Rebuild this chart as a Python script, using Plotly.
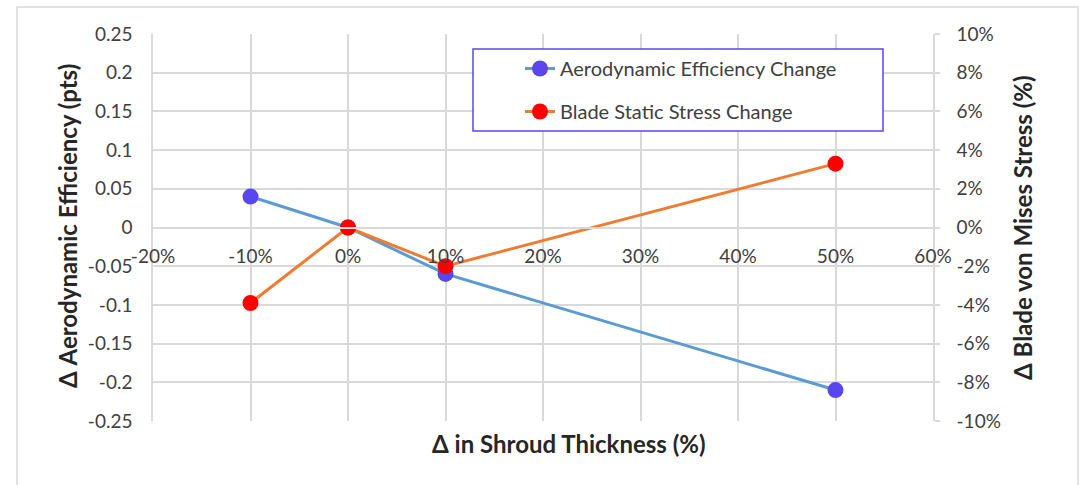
import plotly.graph_objects as go

# Shroud thickness change (%) and the two responses
thickness_pct = [-10, 0, 10, 50]
aero_eff_pts = [0.04, 0.0, -0.06, -0.21]
stress_pct = [-3.9, 0.0, -2.0, 3.3]

x_ticks = [-20, -10, 0, 10, 20, 30, 40, 50, 60]
y_left_ticks = [0.25, 0.2, 0.15, 0.1, 0.05, 0, -0.05, -0.1, -0.15, -0.2, -0.25]
y_left_labels = ["0.25", "0.2", "0.15", "0.1", "0.05", "0", "-0.05", "-0.1", "-0.15", "-0.2", "-0.25"]
y_right_ticks = [10, 8, 6, 4, 2, 0, -2, -4, -6, -8, -10]
y_right_labels = [f"{v}%" for v in y_right_ticks]

FONT = "Lato, 'Open Sans', sans-serif"
GRID = "#d9d9d9"
TXT = "#404040"
TITLE = "#262626"
TICK_SIZE = 19
TITLE_SIZE = 24

fig = go.Figure()
fig.add_trace(go.Scatter(
    x=thickness_pct, y=aero_eff_pts, name="Aerodynamic Efficiency Change",
    mode="lines+markers", legendgroup="aero",
    line=dict(color="#5b9bd5", width=3),
    marker=dict(color="#5a46ee", size=16),
    yaxis="y",
))
fig.add_trace(go.Scatter(
    x=thickness_pct, y=stress_pct, name="Blade Static Stress Change",
    mode="lines+markers", legendgroup="stress",
    line=dict(color="#ed7d31", width=3),
    marker=dict(color="#ff0000", size=16),
    yaxis="y2",
))

W, H = 1083, 485
L, R, T, B = 153, 150, 34, 64
pw, ph = W - L - R, H - T - B

def px_x(p):
    return (p - L) / pw

def px_y(p):
    return (H - B - p) / ph

fig.update_layout(
    width=W, height=H,
    margin=dict(l=L, r=R, t=T, b=B),
    paper_bgcolor="white", plot_bgcolor="white",
    font=dict(family=FONT, size=TICK_SIZE, color=TXT),
    showlegend=True,
    legend=dict(
        x=px_x(520), y=px_y(49), xanchor="left", yanchor="top",
        bgcolor="rgba(0,0,0,0)", borderwidth=0,
        font=dict(size=20, color=TXT),
        tracegroupgap=14,
    ),
    xaxis=dict(
        range=[-20, 60], tickvals=x_ticks,
        ticktext=[f"{v}%" for v in x_ticks],
        showgrid=True, gridcolor=GRID, gridwidth=1.5,
        zeroline=False, showline=True, linecolor=GRID, linewidth=1.5,
        anchor="free", position=0.5,
        ticks="", ticklabelstandoff=12,
        tickfont=dict(size=TICK_SIZE, color=TXT),
    ),
    yaxis=dict(
        range=[-0.25, 0.25], tickvals=y_left_ticks, ticktext=y_left_labels,
        showgrid=True, gridcolor=GRID, gridwidth=1.5,
        zeroline=False, showline=True, linecolor=GRID, linewidth=1.5,
        ticks="", ticklabelstandoff=15,
        tickfont=dict(size=TICK_SIZE, color=TXT),
    ),
    yaxis2=dict(
        range=[-10, 10], tickvals=y_right_ticks, ticktext=y_right_labels,
        overlaying="y", side="right",
        showgrid=False, zeroline=False,
        showline=True, linecolor=GRID, linewidth=1.5,
        ticks="outside", ticklen=5, tickcolor=GRID, tickwidth=1.5,
        ticklabelstandoff=13,
        tickfont=dict(size=TICK_SIZE, color=TXT),
    ),
    annotations=[
        dict(text="<b>Δ in Shroud Thickness (%)</b>",
             xref="paper", yref="paper", x=px_x(569), y=px_y(443),
             xanchor="center", yanchor="middle", showarrow=False,
             font=dict(size=TITLE_SIZE, color=TITLE)),
        dict(text="<b>Δ Aerodynamic Efficiency (pts)</b>",
             xref="paper", yref="paper", x=px_x(67), y=px_y(226),
             xanchor="center", yanchor="middle", showarrow=False, textangle=-90,
             font=dict(size=TITLE_SIZE, color=TITLE)),
        dict(text="<b>Δ Blade von Mises Stress (%)</b>",
             xref="paper", yref="paper", x=px_x(1023), y=px_y(228),
             xanchor="center", yanchor="middle", showarrow=False, textangle=-90,
             font=dict(size=TITLE_SIZE, color=TITLE)),
    ],
    shapes=[
        # outer chart frame
        dict(type="rect", xref="paper", yref="paper",
             x0=px_x(17), x1=px_x(1078), y0=px_y(495), y1=px_y(7),
             line=dict(color=GRID, width=1.5), fillcolor="rgba(0,0,0,0)",
             layer="below"),
        # legend box
        dict(type="rect", xref="paper", yref="paper",
             x0=px_x(473), x1=px_x(883), y0=px_y(131), y1=px_y(49),
             line=dict(color="#5a46ee", width=1.5), fillcolor="white",
             layer="above"),
    ],
)

fig.write_html("out.html")
